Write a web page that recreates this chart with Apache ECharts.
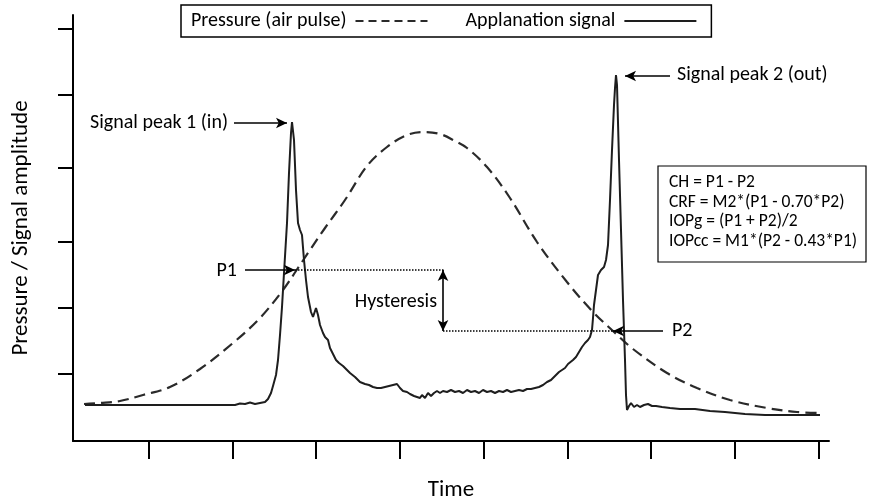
<!DOCTYPE html>
<html><head><meta charset="utf-8">
<script src="https://cdn.jsdelivr.net/npm/echarts@6/dist/echarts.min.js"></script>
<style>html,body{margin:0;padding:0;background:#fff}#c{width:869px;height:504px}</style>
</head><body><div id="c"></div>
<script>
// Axis tick positions (arbitrary units)
const timeTicks = [76, 160, 243, 327, 411, 495, 578, 662, 746];
const amplitudeTicks = [67, 133, 199, 273, 346, 412];
const timeRange = [0, 756];
const amplitudeRange = [0, 426];

// Pressure (air pulse) curve: [time, amplitude]
const pressureData = [[11,37],[27,38],[47,40],[70,46],[97,54],[127,72],[160,98],[187,123],[210,151],[223,170],[237,191],[252,213],[272,241],[294,275],[314,294],[334,306],[350,309],[367,307],[382,300],[394,293],[414,274],[437,243],[464,199],[494,159],[520,129],[540,110],[560,92],[594,68],[624,53],[657,41],[694,33],[724,29],[747,28]];

// Applanation signal curve: [time, amplitude]
const signalData = [[12,36],[47,36],[87,36],[127,36],[162,36],[167,37.5],[172,37],[177,38.5],[182,37],[187,38],[192,39],[195,42],[198,48],[200,55],[203,66],[205,81],[207,106],[209,134],[211,168],[214,218],[216,268],[218,308],[219,319],[221,301],[223,251],[225,218],[227,211],[229,206],[231,181],[233,161],[235,144],[238,129],[240,124],[243,133],[245,126],[247,116],[250,108],[252,104],[255,101],[257,93],[260,87],[263,81],[266,78],[270,75],[273,72],[277,68],[282,64],[287,59],[292,57],[296,56],[300,54],[304,53],[308,53],[312,54],[316,55],[320,56],[324,57],[327,53],[330,50],[334,49],[337,47],[341,45],[344,44],[347,43],[349,46],[352,43],[355,48],[358,45],[361,48],[364,50],[367,48],[370,50],[374,49],[378,51],[382,49],[386,50],[390,48],[394,51],[398,49],[402,50],[406,48],[410,51],[414,49],[418,50],[422,48],[426,50],[430,49],[434,51],[438,49],[442,50],[446,51],[450,50],[454,52],[458,52],[462,53],[466,54],[470,56],[474,59],[478,61],[482,65],[486,69],[489,71],[492,73],[495,77],[497,79],[500,81],[503,84],[506,89],[509,94],[512,98],[515,101],[517,104],[519,111],[520,123],[521,136],[523,151],[525,166],[528,171],[531,174],[533,181],[535,196],[537,241],[539,291],[541,336],[542,353],[543,366],[544,356],[546,281],[548,211],[550,141],[552,81],[553,46],[554,31],[556,35],[558,38],[561,34],[564,36],[567,34],[571,36],[575,37],[579,35],[583,35],[589,34],[597,33],[607,32],[622,32],[637,30],[652,29],[672,27],[692,26],[717,26],[747,26]];

// Annotation levels
const P1 = 171, P2 = 110;
const P1Time = 222, P2Time = 540, hysteresisTime = 370;
const peak1 = [219, 319], peak2 = [543, 366];

const FONT = "Carlito, Lato, 'Open Sans', sans-serif";
const chart = echarts.init(document.getElementById('c'), null, {renderer: 'canvas'});

const arrowEnd = {symbol: 'arrow', symbolSize: [8, 11]};
const noEnd = {symbol: 'none'};
const solidArrow = {color: '#000', width: 1.6, type: 'solid'};
const dotted = {color: '#000', width: 1.6, type: [1.5, 1.5]};

const markLines = [
  [Object.assign({coord: [peak1[0] - 58, peak1[1] - 1], lineStyle: solidArrow}, noEnd), Object.assign({coord: [peak1[0] - 5, peak1[1] - 1]}, arrowEnd)],
  [Object.assign({coord: [peak2[0] + 54, peak2[1] - 1], lineStyle: solidArrow}, noEnd), Object.assign({coord: [peak2[0] + 9, peak2[1] - 1]}, arrowEnd)],
  [Object.assign({coord: [P1Time - 50, P1], lineStyle: solidArrow}, noEnd), Object.assign({coord: [P1Time, P1]}, arrowEnd)],
  [Object.assign({coord: [P2Time + 50, P2], lineStyle: solidArrow}, noEnd), Object.assign({coord: [P2Time, P2]}, arrowEnd)],
  [Object.assign({coord: [P1Time, P1], lineStyle: dotted}, noEnd), Object.assign({coord: [hysteresisTime + 2, P1]}, noEnd)],
  [Object.assign({coord: [hysteresisTime, P2], lineStyle: dotted}, noEnd), Object.assign({coord: [P2Time, P2]}, noEnd)],
  [Object.assign({coord: [hysteresisTime, P1], lineStyle: solidArrow}, arrowEnd), Object.assign({coord: [hysteresisTime, P2]}, arrowEnd)]
];

const LBL = '20px ' + FONT;
const option = {
  animation: false,
  backgroundColor: '#fff',
  textStyle: {fontFamily: FONT, color: '#000'},
  grid: {left: 73, right: 40, top: 15, bottom: 63, containLabel: false, outerBoundsMode: 'none'},
  legend: {
    top: 5, left: 181, align: 'right', itemWidth: 72, itemHeight: 14, itemGap: 37,
    padding: [6, 14, 6, 10], borderColor: '#000', borderWidth: 1.5,
    itemStyle: {color: 'rgba(0,0,0,0)', borderWidth: 0, opacity: 0},
    textStyle: {fontSize: 20, color: '#000', fontFamily: FONT, padding: [0, 4, 0, 0]},
    data: [{name: 'Pressure (air pulse)', lineStyle: {type: [8, 5]}}, {name: 'Applanation signal'}]
  },
  xAxis: {
    type: 'value', min: timeRange[0], max: timeRange[1],
    name: 'Time', nameLocation: 'middle', nameGap: 38,
    nameTextStyle: {fontSize: 23, color: '#000', fontFamily: FONT},
    axisLine: {show: true, lineStyle: {color: '#000', width: 2}},
    axisTick: {show: true, customValues: timeTicks, length: 18, lineStyle: {color: '#000', width: 2}},
    axisLabel: {show: false}, splitLine: {show: false}
  },
  yAxis: {
    type: 'value', min: amplitudeRange[0], max: amplitudeRange[1],
    name: 'Pressure / Signal amplitude', nameLocation: 'middle', nameGap: 40,
    nameTextStyle: {fontSize: 23, color: '#000', fontFamily: FONT},
    axisLine: {show: true, lineStyle: {color: '#000', width: 2}},
    axisTick: {show: true, customValues: amplitudeTicks, length: 15, lineStyle: {color: '#000', width: 2}},
    axisLabel: {show: false}, splitLine: {show: false}
  },
  series: [
    {
      name: 'Pressure (air pulse)', type: 'line', data: pressureData, symbol: 'none', smooth: 0.35,
      lineStyle: {color: '#2a2a2a', width: 2.2, type: [11, 6]}, itemStyle: {color: '#2a2a2a'},
      emphasis: {disabled: true}, z: 2
    },
    {
      name: 'Applanation signal', type: 'line', data: signalData, symbol: 'none',
      lineStyle: {color: '#1e1e1e', width: 2}, itemStyle: {color: '#1e1e1e'},
      emphasis: {disabled: true}, z: 3,
      markLine: {silent: true, animation: false, label: {show: false}, symbol: ['none', 'none'], data: markLines}
    }
  ],
  graphic: [
    {type: 'text', x: 228, y: 123, style: {text: 'Signal peak 1 (in)', align: 'right', verticalAlign: 'middle', font: LBL, fill: '#000'}},
    {type: 'text', x: 677, y: 75, style: {text: 'Signal peak 2 (out)', align: 'left', verticalAlign: 'middle', font: LBL, fill: '#000'}},
    {type: 'text', x: 237, y: 271, style: {text: 'P1', align: 'right', verticalAlign: 'middle', font: LBL, fill: '#000'}},
    {type: 'text', x: 672, y: 331, style: {text: 'P2', align: 'left', verticalAlign: 'middle', font: LBL, fill: '#000'}},
    {type: 'text', x: 437, y: 302, style: {text: 'Hysteresis', align: 'right', verticalAlign: 'middle', font: LBL, fill: '#000'}},
    {type: 'rect', shape: {x: 658, y: 166, width: 208, height: 96}, style: {fill: '#fff', stroke: '#000', lineWidth: 1.2}, z: 10},
    {type: 'text', x: 669, y: 173, z: 11, style: {text: 'CH = P1 - P2\nCRF = M2*(P1 - 0.70*P2)\nIOPg = (P1 + P2)/2\nIOPcc = M1*(P2 - 0.43*P1)', align: 'left', verticalAlign: 'top', font: '17.5px ' + FONT, lineHeight: 19.6, fill: '#000'}}
  ]
};
chart.setOption(option);
</script></body></html>
